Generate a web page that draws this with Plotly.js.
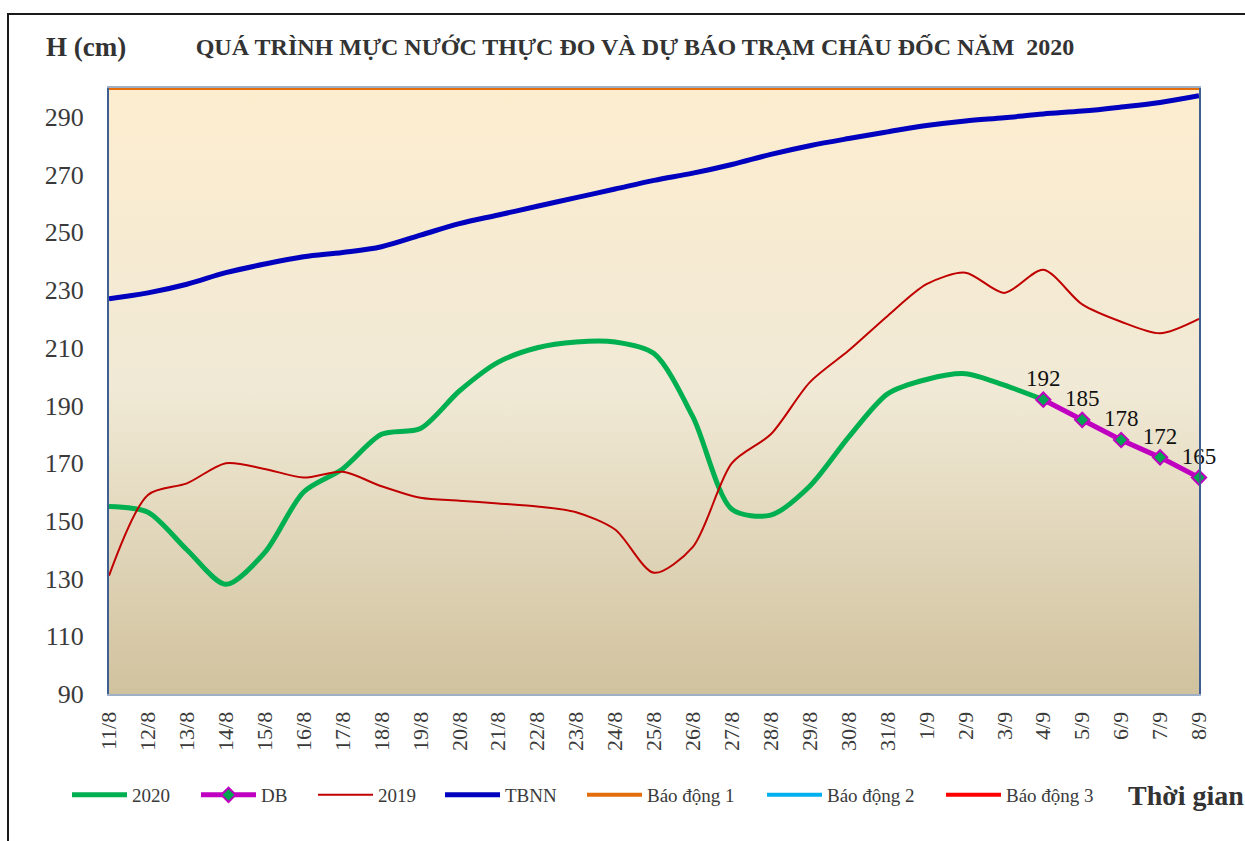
<!DOCTYPE html>
<html>
<head>
<meta charset="utf-8">
<script src="https://cdn.plot.ly/plotly-3.0.1.min.js"></script>
<style>html,body{margin:0;padding:0;background:#fff;}#chart{width:1245px;height:841px;}</style>
</head>
<body>
<div id="chart"></div>
<script>
const dates = ["11/8","12/8","13/8","14/8","15/8","16/8","17/8","18/8","19/8","20/8","21/8","22/8","23/8","24/8","25/8","26/8","27/8","28/8","29/8","30/8","31/8","1/9","2/9","3/9","4/9","5/9","6/9","7/9","8/9"];
const obs2020 = [155,153,140,128,139,160,168,180,182,195,205,210,212,212,208,186,154,152,162,179,194,199,201,197,192];
const forecastDates = ["4/9","5/9","6/9","7/9","8/9"];
const forecastDB = [192,185,178,172,165];
const obs2019 = [131,159,163,170,168,165,167,162,158,157,156,155,153,147,132,141,170,180,198,209,221,232,236,229,237,225,219,215,220];
const tbnn = [227,229,232,236,239,241.5,243,245,249,253,256,259,262,265,268,270.5,273.5,277,280,282.5,284.8,287,288.6,289.7,291,292,293.4,295,297.3];
const alarm1 = 300, alarm2 = 350, alarm3 = 400;
const yTicks = [90,110,130,150,170,190,210,230,250,270,290];
const seriesNames = ['2020','DB','2019','TBNN','Báo động 1','Báo động 2','Báo động 3'];

const serif = 'Liberation Serif, Times New Roman, serif';
const txt = '#3a3a3a';

const traces = [
  {name:seriesNames[0], legend:'legend', x:dates.slice(0, obs2020.length), y:obs2020, mode:'lines', line:{color:'#00B050', width:5, shape:'spline', smoothing:0.8}},
  {name:seriesNames[1], legend:'legend2', x:forecastDates, y:forecastDB, mode:'lines+markers+text', text:forecastDB.map(String), textposition:'top center', textfont:{family:serif, size:23, color:'#111'}, cliponaxis:false,
   line:{color:'#C000C0', width:5}, marker:{symbol:'diamond', size:11, color:'#00A550', line:{color:'#C000C0', width:2}}},
  {name:seriesNames[2], legend:'legend3', x:dates, y:obs2019, mode:'lines', line:{color:'#C00000', width:2, shape:'spline', smoothing:0.8}},
  {name:seriesNames[3], legend:'legend4', x:dates, y:tbnn, mode:'lines', line:{color:'#0000BF', width:5, shape:'spline'}},
  {name:seriesNames[4], legend:'legend5', x:dates, y:dates.map(()=>alarm1), mode:'lines', line:{color:'#E46C0A', width:4}, cliponaxis:false},
  {name:seriesNames[5], legend:'legend6', x:dates, y:dates.map(()=>alarm2), mode:'lines', line:{color:'#00B0F0', width:4}},
  {name:seriesNames[6], legend:'legend7', x:dates, y:dates.map(()=>alarm3), mode:'lines', line:{color:'#FF0000', width:4}}
];

const grad = "<svg xmlns='http://www.w3.org/2000/svg' width='10' height='10' viewBox='0 0 10 10' preserveAspectRatio='none'><defs><linearGradient id='g' x1='0' y1='0' x2='0' y2='1'><stop offset='0' stop-color='#FDEDCF'/><stop offset='0.5' stop-color='#F0E9D5'/><stop offset='1' stop-color='#D1C29E'/></linearGradient></defs><rect width='10' height='10' fill='url(#g)'/></svg>";
const gradSrc = 'data:image/svg+xml;charset=utf-8,' + encodeURIComponent(grad);

const legendStarts = [73,202,319,446,588,768,947];
function legendAt(px){
  return {orientation:'h', x:(px-6-109)/1090, xanchor:'left', y:(694-795)/606, yanchor:'middle',
          font:{family:serif, size:19, color:txt}, itemwidth:55, bgcolor:'rgba(0,0,0,0)'};
}

const layout = {
  width:1245, height:841,
  margin:{l:109, r:46, t:88, b:147},
  paper_bgcolor:'#ffffff', plot_bgcolor:'rgba(0,0,0,0)',
  font:{family:serif, color:txt},
  showlegend:true,
  title:{text:'QUÁ TRÌNH MỰC NƯỚC THỰC ĐO VÀ DỰ BÁO TRẠM CHÂU ĐỐC NĂM  2020', font:{family:serif, size:24, color:'#333', weight:'bold'},
         x:635/1245, xanchor:'center', xref:'container', y:1-47/841, yanchor:'middle', yref:'container'},
  xaxis:{type:'category', categoryorder:'array', categoryarray:dates, range:[0,28], tickangle:-90,
         tickfont:{family:serif, size:22, color:txt}, showgrid:false, zeroline:false,
         showline:true, linecolor:'#9DB0C8', linewidth:2, mirror:true, ticks:'outside', ticklen:7, tickcolor:'rgba(0,0,0,0)'},
  yaxis:{range:[90,300], tickvals:yTicks, tickfont:{family:serif, size:26, color:txt}, showgrid:false, zeroline:false,
         showline:true, linecolor:'#3F5E91', linewidth:2, mirror:true, ticks:'outside', ticklen:18, tickcolor:'rgba(0,0,0,0)'},
  legend:legendAt(legendStarts[0]),
  legend2:legendAt(legendStarts[1]),
  legend3:legendAt(legendStarts[2]),
  legend4:legendAt(legendStarts[3]),
  legend5:legendAt(legendStarts[4]),
  legend6:legendAt(legendStarts[5]),
  legend7:legendAt(legendStarts[6]),
  images:[{source:gradSrc, xref:'paper', yref:'paper', x:0, y:1, sizex:1, sizey:1, sizing:'stretch', layer:'below'}],
  annotations:[
    {text:'<b>H (cm)</b>', xref:'paper', yref:'paper', x:(86-109)/1090, y:(694-47)/606, xanchor:'center', yanchor:'middle', showarrow:false, font:{family:serif, size:27, color:'#333'}},
    {text:'<b>Thời gian</b>', xref:'paper', yref:'paper', x:(1126-109)/1090, y:(694-795)/606, xanchor:'left', yanchor:'middle', showarrow:false, font:{family:serif, size:28, color:'#333'}}
  ],
  shapes:[
    {type:'rect', xref:'paper', yref:'paper', x0:(8-109)/1090, x1:1.3, y0:-0.5, y1:(694-14)/606, line:{color:'#1a1a1a', width:2}, fillcolor:'rgba(0,0,0,0)', layer:'below'}
  ]
};

Plotly.newPlot('chart', traces, layout, {displayModeBar:false, staticPlot:true});
</script>
</body>
</html>
